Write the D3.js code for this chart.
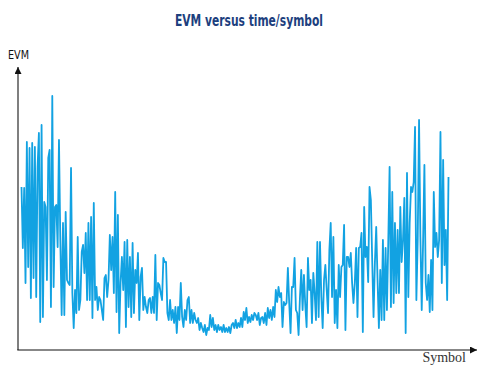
<!DOCTYPE html>
<html>
<head>
<meta charset="utf-8">
<script src="https://cdn.jsdelivr.net/npm/d3@7"></script>
<style>
	body { margin: 0; background: #fff; }
	svg { display: block; }
</style>
</head>
<body>
<div id="evm_chart"><svg width="500" height="372"></svg></div>
<script>
	// chart texts
	var titleText = "EVM versus time/symbol"
	var yLabel = "EVM"
	var xLabel = "Symbol"

	// EVM per symbol (arbitrary %)
	var evmValues = [
		16.3, 10.2, 16.2, 6.7, 20.8, 8.3, 20.2, 5.2, 20.7, 7.2,
		20.3, 5.3, 18.3, 21.7, 2.8, 22.5, 3.3, 14.8, 14.3, 7.0,
		19.2, 20.0, 4.3, 25.4, 6.3, 14.3, 14.5, 10.3, 21.0, 11.0,
		3.5, 12.7, 3.5, 13.8, 7.0, 6.7, 6.5, 18.2, 5.7, 2.2,
		6.0, 3.7, 11.3, 4.0, 5.0, 9.8, 10.5, 7.7, 11.7, 5.0,
		12.7, 5.0, 13.3, 3.2, 14.7, 5.0, 6.3, 4.0, 5.3, 5.0,
		4.0, 3.0, 7.2, 7.5, 5.3, 7.0, 11.5, 8.0, 11.3, 5.7,
		15.8, 3.8, 13.5, 1.7, 6.7, 9.3, 6.0, 10.8, 2.3, 11.0,
		4.3, 9.3, 3.3, 10.7, 3.7, 8.0, 6.7, 9.7, 3.0, 7.3,
		8.2, 4.0, 5.3, 4.3, 3.7, 5.0, 5.2, 3.7, 5.3, 3.7,
		9.5, 3.0, 6.7, 6.5, 5.7, 5.0, 9.2, 8.8, 8.8, 3.7,
		3.0, 5.0, 3.0, 4.0, 2.7, 4.3, 1.7, 4.3, 3.0, 6.7,
		3.3, 2.3, 4.0, 3.0, 5.0, 5.3, 2.7, 4.0, 2.7, 3.7,
		3.0, 2.7, 3.2, 2.0, 2.7, 2.2, 1.8, 2.5, 1.5, 2.2,
		2.0, 3.5, 2.3, 3.2, 2.0, 2.5, 1.8, 2.5, 2.0, 2.3,
		1.8, 2.5, 1.8, 2.2, 1.8, 2.3, 1.7, 2.5, 2.7, 2.2,
		3.0, 2.2, 2.7, 2.3, 3.2, 2.3, 3.8, 3.0, 4.2, 2.7,
		3.3, 2.8, 3.5, 3.0, 3.7, 3.5, 3.0, 3.7, 2.5, 3.2,
		3.3, 2.7, 3.7, 2.5, 4.2, 3.2, 4.0, 3.0, 4.3, 3.3,
		6.0, 4.8, 6.3, 5.3, 5.7, 2.3, 4.8, 4.5, 4.7, 8.2,
		4.7, 1.7, 6.3, 6.3, 9.2, 4.0, 3.7, 1.5, 5.2, 8.0,
		4.0, 7.5, 4.5, 2.3, 9.2, 6.0, 7.0, 2.7, 7.7, 5.7,
		3.0, 10.8, 3.3, 10.8, 5.3, 2.2, 7.0, 8.5, 6.0, 3.7,
		10.0, 12.7, 5.3, 11.3, 2.7, 6.0, 2.2, 8.5, 5.3, 8.3,
		8.5, 12.5, 2.0, 9.3, 9.3, 8.3, 9.7, 6.7, 4.7, 6.7,
		10.2, 3.3, 10.2, 10.3, 11.7, 1.8, 14.3, 9.3, 10.3, 6.8,
		16.3, 15.0, 9.0, 3.3, 8.7, 12.3, 7.0, 2.2, 8.0, 3.0,
		11.0, 3.0, 10.2, 4.0, 10.8, 18.3, 4.3, 15.8, 4.7, 12.7,
		5.7, 12.0, 5.7, 14.3, 8.8, 11.0, 15.2, 1.7, 17.7, 5.3,
		12.7, 16.3, 15.8, 16.8, 22.3, 5.0, 11.0, 23.0, 11.3, 4.0,
		10.7, 18.5, 6.7, 5.0, 7.5, 3.8, 9.0, 4.0, 15.8, 10.3,
		11.7, 9.3, 11.0, 21.8, 6.7, 19.0, 8.5, 12.0, 5.0, 17.3
	]

	var symbols = d3.range(evmValues.length)

	var svg = d3.select("#evm_chart").select("svg")
	var svgWidth = +svg.attr("width")
	var svgHeight = +svg.attr("height")

	var axisX = 18
	var axisY = 350

	var x = d3.scaleLinear()
		.domain([0, symbols.length - 1])
		.range([21.5, 448.5])

	var y = d3.scaleLinear()
		.domain([0, 29])
		.range([axisY, axisY - 290])

	// arrow heads
	var defs = svg.append("defs")
	defs.append("marker")
		.attr("id", "arrow")
		.attr("viewBox", "0 0 10 10")
		.attr("refX", 10)
		.attr("refY", 5)
		.attr("markerWidth", 8)
		.attr("markerHeight", 7)
		.attr("markerUnits", "userSpaceOnUse")
		.attr("orient", "auto")
		.append("path")
		.attr("d", "M0,0L10,5L0,10Z")
		.attr("fill", "#111")

	// title
	svg.append("text")
		.attr("x", 249)
		.attr("y", 26)
		.attr("text-anchor", "middle")
		.attr("textLength", 148)
		.attr("lengthAdjust", "spacingAndGlyphs")
		.style("font-family", "'Liberation Sans Narrow', 'DejaVu Sans Condensed', sans-serif")
		.style("font-weight", "bold")
		.style("font-size", "15.5px")
		.style("fill", "#1d3f7e")
		.text(titleText)

	// the EVM line
	var line = d3.line()
		.x(function(d, i) { return x(i); })
		.y(function(d) { return y(d); })

	svg.append("path")
		.datum(evmValues)
		.attr("d", line)
		.attr("fill", "none")
		.attr("stroke", "#12a2e2")
		.attr("stroke-width", 1.8)
		.attr("stroke-linejoin", "round")

	// axes
	svg.append("line")
		.attr("x1", axisX)
		.attr("y1", axisY)
		.attr("x2", axisX)
		.attr("y2", 67)
		.attr("stroke", "#555")
		.attr("stroke-width", 1.5)
		.attr("marker-end", "url(#arrow)")

	svg.append("line")
		.attr("x1", axisX - 0.7)
		.attr("y1", axisY)
		.attr("x2", 477)
		.attr("y2", axisY)
		.attr("stroke", "#111")
		.attr("stroke-width", 1.2)
		.attr("marker-end", "url(#arrow)")

	svg.append("text")
		.attr("x", 8)
		.attr("y", 59)
		.attr("textLength", 21)
		.attr("lengthAdjust", "spacingAndGlyphs")
		.style("font-family", "'Liberation Sans Narrow', 'DejaVu Sans Condensed', sans-serif")
		.style("font-size", "12px")
		.style("fill", "#111")
		.text(yLabel)

	svg.append("text")
		.attr("x", 466)
		.attr("y", 362)
		.attr("text-anchor", "end")
		.style("font-family", "'Liberation Serif', 'DejaVu Serif', serif")
		.style("font-size", "14px")
		.style("fill", "#333")
		.text(xLabel)
</script>
</body>
</html>
